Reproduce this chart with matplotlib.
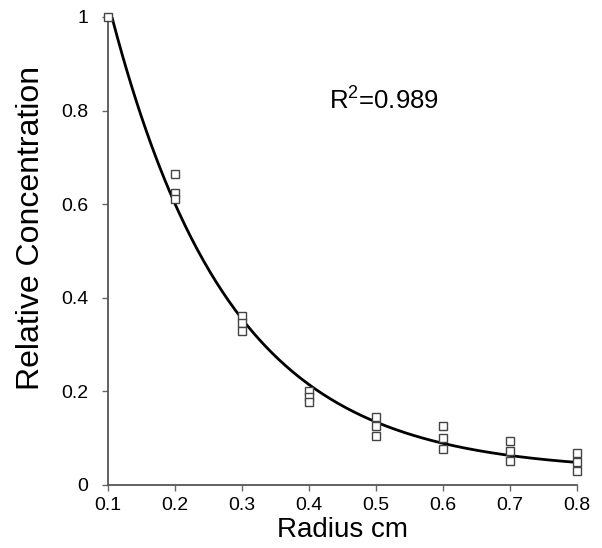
import matplotlib
matplotlib.use("Agg")
import matplotlib.pyplot as plt
import numpy as np

plt.rcParams['font.family'] = ['Liberation Sans', 'DejaVu Sans']
plt.rcParams['mathtext.fontset'] = 'custom'
plt.rcParams['mathtext.rm'] = 'Liberation Sans'

radius = [0.1,
          0.2, 0.2, 0.2,
          0.3, 0.3, 0.3,
          0.4, 0.4, 0.4,
          0.5, 0.5, 0.5,
          0.6, 0.6, 0.6,
          0.7, 0.7, 0.7,
          0.8, 0.8, 0.8]
conc = [1.0,
        0.665, 0.624, 0.611,
        0.361, 0.346, 0.328,
        0.200, 0.189, 0.178,
        0.146, 0.126, 0.105,
        0.126, 0.100, 0.077,
        0.093, 0.073, 0.052,
        0.068, 0.049, 0.030]

xticks = [0.1, 0.2, 0.3, 0.4, 0.5, 0.6, 0.7, 0.8]
yticks = [0, 0.2, 0.4, 0.6, 0.8, 1]
ytick_labels = ["0", "0.2", "0.4", "0.6", "0.8", "1"]
r2_text = r"R$^{\mathregular{2}}$=0.989"

# fitted curve y = a*exp(-b*x) + c (least squares over b grid)
x = np.array(radius)
y = np.array(conc)
best = None
for b in np.linspace(1, 20, 1901):
    A = np.column_stack([np.exp(-b * x), np.ones_like(x)])
    coef, res, _, _ = np.linalg.lstsq(A, y, rcond=None)
    err = np.sum((A @ coef - y) ** 2)
    if best is None or err < best[0]:
        best = (err, b, coef)
_, b_fit, (a_fit, c_fit) = best
xs = np.linspace(0.1, 0.8, 300)
ys = a_fit * np.exp(-b_fit * xs) + c_fit

fig = plt.figure(figsize=(6.02, 5.48), dpi=100)
ax = fig.add_axes([0.1794, 0.115, 0.7791, 0.854])

ax.plot(xs, ys, color="black", lw=2.0, zorder=2)
ax.plot(radius, conc, linestyle="none", marker="s", markersize=6,
        markerfacecolor="white", markeredgecolor="#444444", markeredgewidth=1.0,
        zorder=3, clip_on=False)

ax.set_xlim(0.1, 0.8)
ax.set_ylim(0, 1)
ax.set_xticks(xticks)
ax.set_xticklabels([str(t) for t in xticks])
ax.set_yticks(yticks)
ax.set_yticklabels(ytick_labels)

for s in ["top", "right"]:
    ax.spines[s].set_visible(False)
for s in ["left", "bottom"]:
    ax.spines[s].set_color("#555555")
    ax.spines[s].set_linewidth(1.3)
ax.spines["bottom"].set_bounds(0.1, 0.8)
ax.tick_params(direction="out", length=4, width=1, color="#666666",
               labelsize=14)
ax.tick_params(axis="x", pad=5)
ax.tick_params(axis="y", pad=10)

ax.set_xlabel("Radius cm", fontsize=20, labelpad=2)
ax.set_ylabel("Relative Concentration", fontsize=23)
ax.yaxis.set_label_coords(-0.132, 0.55)

ax.text(0.512, 0.823, r2_text, fontsize=18.5, ha="center", va="center")

fig.savefig("out.png", dpi=100)
